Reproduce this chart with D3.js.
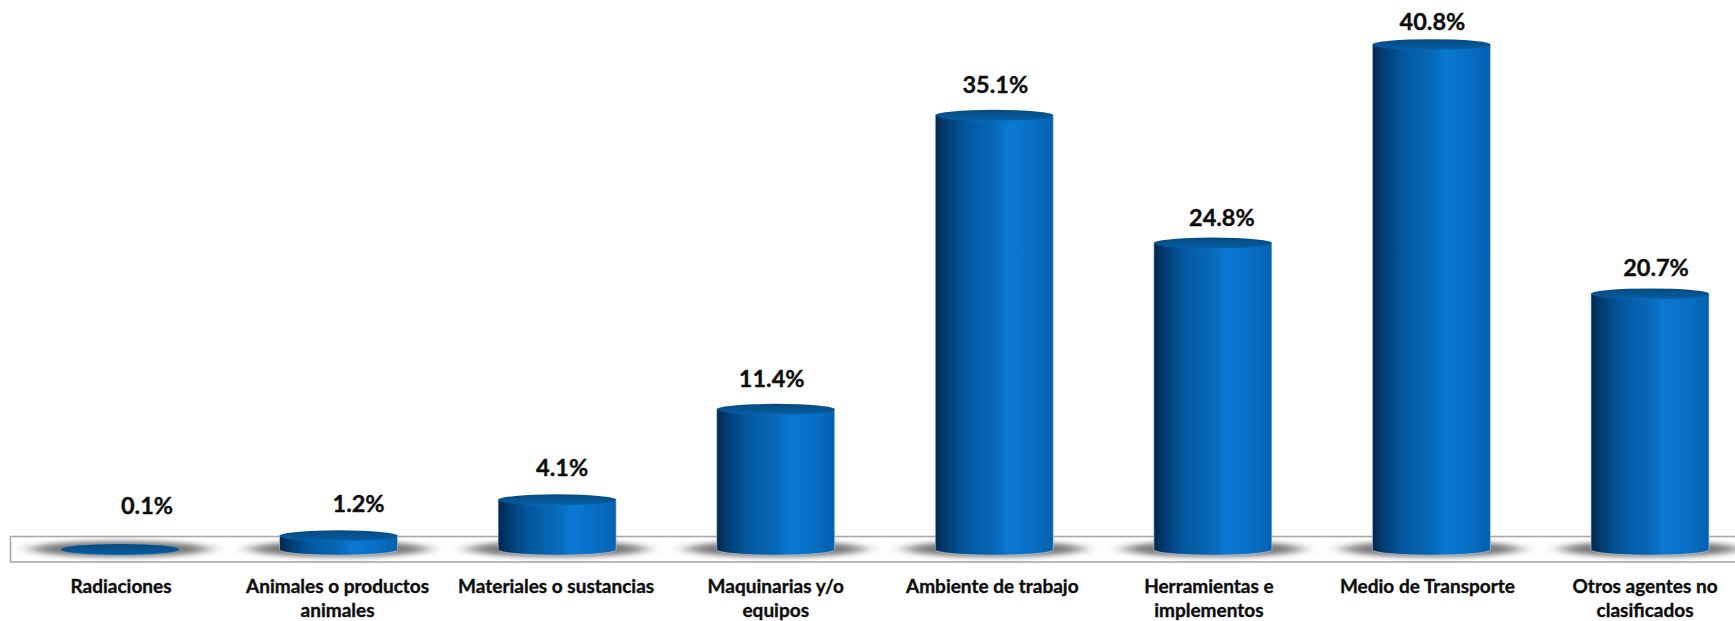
<!DOCTYPE html>
<html><head><meta charset="utf-8">
<script src="https://cdn.jsdelivr.net/npm/d3@7/dist/d3.min.js"></script>
<style>html,body{margin:0;padding:0;background:#fff;overflow:hidden}svg{display:block}
text{font-family:Lato,"Open Sans",sans-serif;font-weight:700;fill:#0d0d0d;stroke:#0d0d0d;stroke-width:.35px}</style>
</head><body><svg id="c" width="1735" height="621"></svg>
<script>
const categories = ["Radiaciones","Animales o productos animales","Materiales o sustancias","Maquinarias y/o equipos","Ambiente de trabajo","Herramientas e implementos","Medio de Transporte","Otros agentes no clasificados"];
const categoryLines = [["Radiaciones"],["Animales o productos","animales"],["Materiales o sustancias"],["Maquinarias y/o","equipos"],["Ambiente de trabajo"],["Herramientas e","implementos"],["Medio de Transporte"],["Otros agentes no","clasificados"]];
const values = [0.1,1.2,4.1,11.4,35.1,24.8,40.8,20.7];
const labelNudgeX = [27,20,5,-4,1,9,1,6];
const labelNudgeY = [-20,-9,-9,-7,-7,-2,0,-3];
const categoryNudgeX = [1,-1,-1,0,-2,-4,-4,-5];

const W=1735,H=621,zero=550.7,ry=5.5;
const svg=d3.select("#c");
const x=d3.scaleBand().domain(categories).range([10.7,1759.3]).paddingInner(0.46).paddingOuter(0.23);
const y=d3.scaleLinear().domain([0,44.4]).range([zero,0]);
const defs=svg.append("defs");

const body=defs.append("linearGradient").attr("id","body");
[[0,"#01284f"],[.1,"#023e75"],[.27,"#0459a0"],[.5,"#0669b8"],[.62,"#0a79d4"],[.8,"#0870c6"],[1,"#0561ae"]]
  .forEach(s=>body.append("stop").attr("offset",s[0]).attr("stop-color",s[1]));
const cap=defs.append("linearGradient").attr("id","cap").attr("x1",0).attr("x2",0).attr("y1",0).attr("y2",1);
[[0,"#064a82"],[.7,"#055797"],[.88,"#055ea6"],[1,"#0a6fc2"]]
  .forEach(s=>cap.append("stop").attr("offset",s[0]).attr("stop-color",s[1]));
defs.append("filter").attr("id","blur").attr("x","-30%").attr("y","-150%").attr("width","160%").attr("height","400%")
  .append("feGaussianBlur").attr("stdDeviation","10 2.4");

// floor band
svg.append("rect").attr("x",10.5).attr("y",536.5).attr("width",W).attr("height",25.5)
  .attr("fill","#fff").attr("stroke","#a8a8a8").attr("stroke-width",1.6);

const g=svg.selectAll("g.bar").data(categories.map((c,i)=>({c,v:values[i],i}))).join("g").attr("class","bar")
  .attr("transform",d=>`translate(${x(d.c)+x.bandwidth()/2},0)`);
const hw=x.bandwidth()/2;

g.append("ellipse").attr("cy",549).attr("rx",hw+30).attr("ry",8).attr("fill","#7c7c7c").attr("filter","url(#blur)");
g.filter(d=>d.v>=1).append("path")
  .attr("d",d=>`M${-hw},${y(d.v)}V${zero-1}A${hw},${ry} 0 0 0 ${hw},${zero-1}V${y(d.v)}Z`)
  .attr("fill","url(#body)").attr("stroke","#d5d5d5").attr("stroke-width",.6);
g.append("ellipse").attr("cy",d=>y(d.v)).attr("rx",hw).attr("ry",ry).attr("fill","url(#cap)");

g.append("text").attr("text-anchor","middle").attr("font-size",23.5)
  .attr("x",d=>labelNudgeX[d.i]).attr("y",d=>y(d.v)-15+labelNudgeY[d.i]).text(d=>d.v.toFixed(1)+"%");

const axis=svg.append("g").attr("transform","translate(0,569)").call(d3.axisBottom(x).tickSize(0).tickPadding(0));
axis.select(".domain").remove();
axis.selectAll(".tick text").attr("font-size",19).attr("y",null).attr("dy",null).each(function(c,k){
  const t=d3.select(this).text(null);
  categoryLines[k].forEach((l,n)=>t.append("tspan").attr("x",categoryNudgeX[k]).attr("y",24+n*24).text(l));
});
axis.attr("font-family",null).attr("font-size",null);
</script></body></html>
